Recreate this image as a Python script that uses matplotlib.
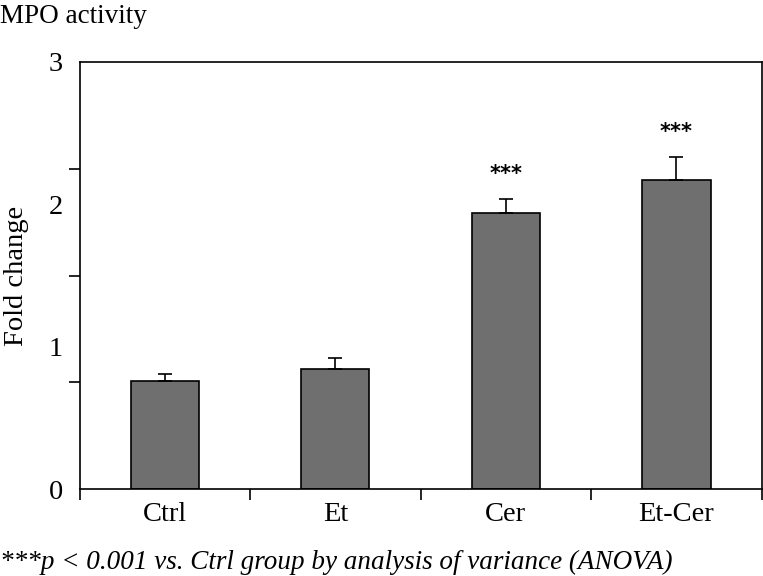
import matplotlib
matplotlib.use("Agg")
import matplotlib.pyplot as plt
import numpy as np

categories = ["Ctrl", "Et", "Cer", "Et-Cer"]
values = [0.757, 0.841, 1.937, 2.171]
errors = [0.051, 0.079, 0.099, 0.164]
stars = ["", "", "***", "***"]

plt.rcParams['font.family'] = ['Liberation Serif', 'DejaVu Serif']

fig = plt.figure(figsize=(7.63, 5.76), dpi=100)
ax = fig.add_axes([0.1042, 0.151, 0.8941, 0.7414])

x = np.arange(len(categories))
ax.bar(x, values, width=0.4, color="#6f6f6f", edgecolor="black", linewidth=1.2, zorder=2)
ax.errorbar(x, values, yerr=[np.zeros(len(errors)), errors], fmt="none",
            ecolor="black", elinewidth=1.2, capsize=5, capthick=1.2, zorder=3)
for xi, v, e, s in zip(x, values, errors, stars):
    if s:
        ax.text(xi, v + e + 0.175, s, ha="center", va="center", fontsize=15,
                family="DejaVu Sans", fontweight="bold")

ax.set_xlim(-0.5, len(categories) - 0.5)
ax.set_ylim(0, 3)

# y: labels at integers, ticks every 0.75
ax.set_yticks([0, 1, 2, 3])
ax.set_yticklabels(["0", "1", "2", "3"])
ax.tick_params(axis="y", which="major", length=0, pad=12, labelsize=20.5)
ax.set_yticks(np.arange(0, 3.01, 0.75), minor=True)
ax.tick_params(axis="y", which="minor", length=8, width=1.2, direction="out")

# x: labels at centres, ticks at boundaries
ax.set_xticks(x)
ax.set_xticklabels(categories)
ax.tick_params(axis="x", which="major", length=0, pad=9, labelsize=20.5)
ax.set_xticks(np.arange(-0.5, len(categories), 1.0), minor=True)
ax.tick_params(axis="x", which="minor", length=8, width=1.2, direction="out")

for sp in ax.spines.values():
    sp.set_linewidth(1.2)

ax.set_ylabel("Fold change", fontsize=20.5, labelpad=14)

fig.text(0.0, 0.972, "MPO activity", fontsize=19.5, ha="left", va="center")
fig.text(0.0, 0.024, "***p < 0.001 vs. Ctrl group by analysis of variance (ANOVA)",
         fontsize=19.5, style="italic", ha="left", va="center")

fig.savefig("out.png", dpi=100)
